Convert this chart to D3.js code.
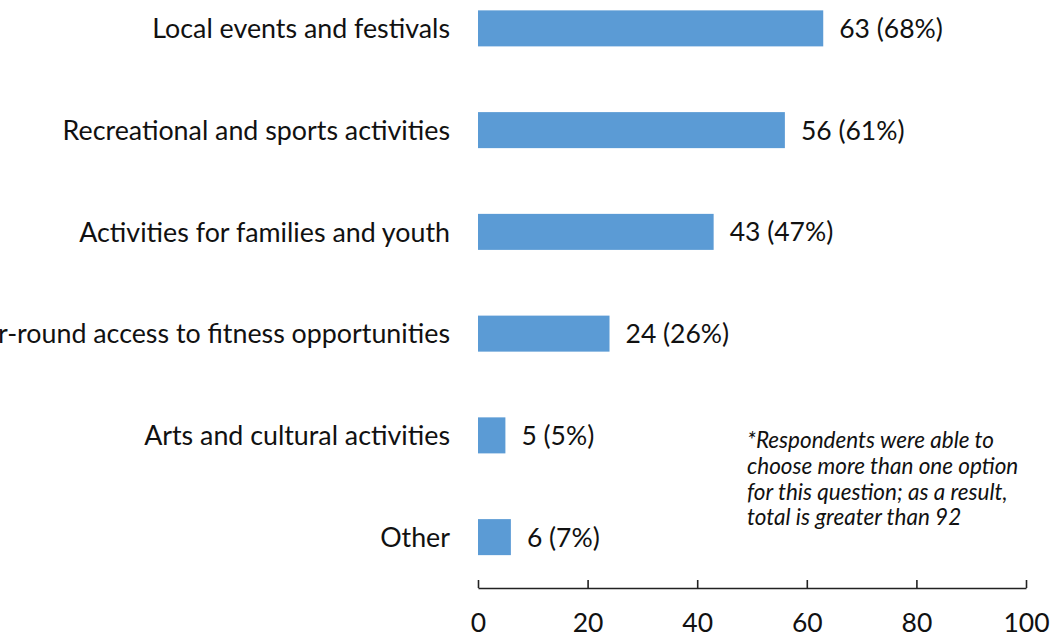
<!DOCTYPE html>
<html>
<head>
<meta charset="utf-8">
<script src="https://cdn.jsdelivr.net/npm/d3@7"></script>
<style>
  html, body { margin: 0; padding: 0; background: #ffffff; overflow: hidden; }
  svg { display: block; }
  text { font-family: Lato, "Open Sans", sans-serif; fill: #111; }
</style>
</head>
<body>
<script>
// Survey responses: activities respondents would like to see offered
const categories = [
  "Local events and festivals",
  "Recreational and sports activities",
  "Activities for families and youth",
  "Year-round access to fitness opportunities",
  "Arts and cultural activities",
  "Other"
];
const counts = [63, 56, 43, 24, 5, 6];
const percents = [68, 61, 47, 26, 5, 7];
const xTicks = [0, 20, 40, 60, 80, 100];
const noteLines = [
  "*Respondents were able to",
  "choose more than one option",
  "for this question; as a result,",
  "total is greater than 92"
];

const W = 1050, H = 637;
const svg = d3.select("body").append("svg").attr("width", W).attr("height", H);

const x = d3.scaleLinear().domain([0, 100]).range([478, 1026]);
const y = d3.scaleBand()
  .domain(categories)
  .range([-22.5, 588])
  .paddingInner(0.646)
  .paddingOuter(0.323);

const rows = categories.map((c, i) => ({ cat: c, n: counts[i], pct: percents[i] }));

// bars
svg.append("g").selectAll("rect")
  .data(rows)
  .join("rect")
  .attr("x", x(0))
  .attr("y", d => y(d.cat))
  .attr("width", d => x(d.n) - x(0))
  .attr("height", y.bandwidth())
  .attr("fill", "#5b9bd5");

// category labels (the longest one runs past the left edge)
svg.append("g").selectAll("text")
  .data(rows)
  .join("text")
  .attr("x", x(0) - 28)
  .attr("y", d => y(d.cat) + y.bandwidth() / 2)
  .attr("dy", "0.36em")
  .attr("text-anchor", "end")
  .style("font-size", "26.8px")
  .text(d => d.cat);

// value labels
svg.append("g").selectAll("text")
  .data(rows)
  .join("text")
  .attr("x", d => x(d.n) + 16)
  .attr("y", d => y(d.cat) + y.bandwidth() / 2)
  .attr("dy", "0.36em")
  .style("font-size", "26.5px")
  .text(d => `${d.n} (${d.pct}%)`);

// x axis with upward ticks
const axisY = 588;
const ax = svg.append("g")
  .attr("transform", `translate(0,${axisY})`)
  .call(d3.axisBottom(x).tickValues(xTicks).tickSizeInner(-8).tickSizeOuter(0).tickPadding(25));
ax.select(".domain").attr("stroke", "#222").attr("stroke-width", 1.6);
ax.selectAll(".tick line").attr("stroke", "#222").attr("stroke-width", 1.6);
ax.selectAll(".tick text")
  .style("font-family", "Lato, 'Open Sans', sans-serif")
  .style("font-size", "26.5px")
  .attr("fill", "#111");

// footnote
svg.append("text")
  .attr("x", 747)
  .attr("y", 448)
  .style("font-size", "22.5px")
  .style("font-style", "italic")
  .selectAll("tspan")
  .data(noteLines)
  .join("tspan")
  .attr("x", 747)
  .attr("dy", (d, i) => i === 0 ? 0 : 25.8)
  .text(d => d);
</script>
</body>
</html>
